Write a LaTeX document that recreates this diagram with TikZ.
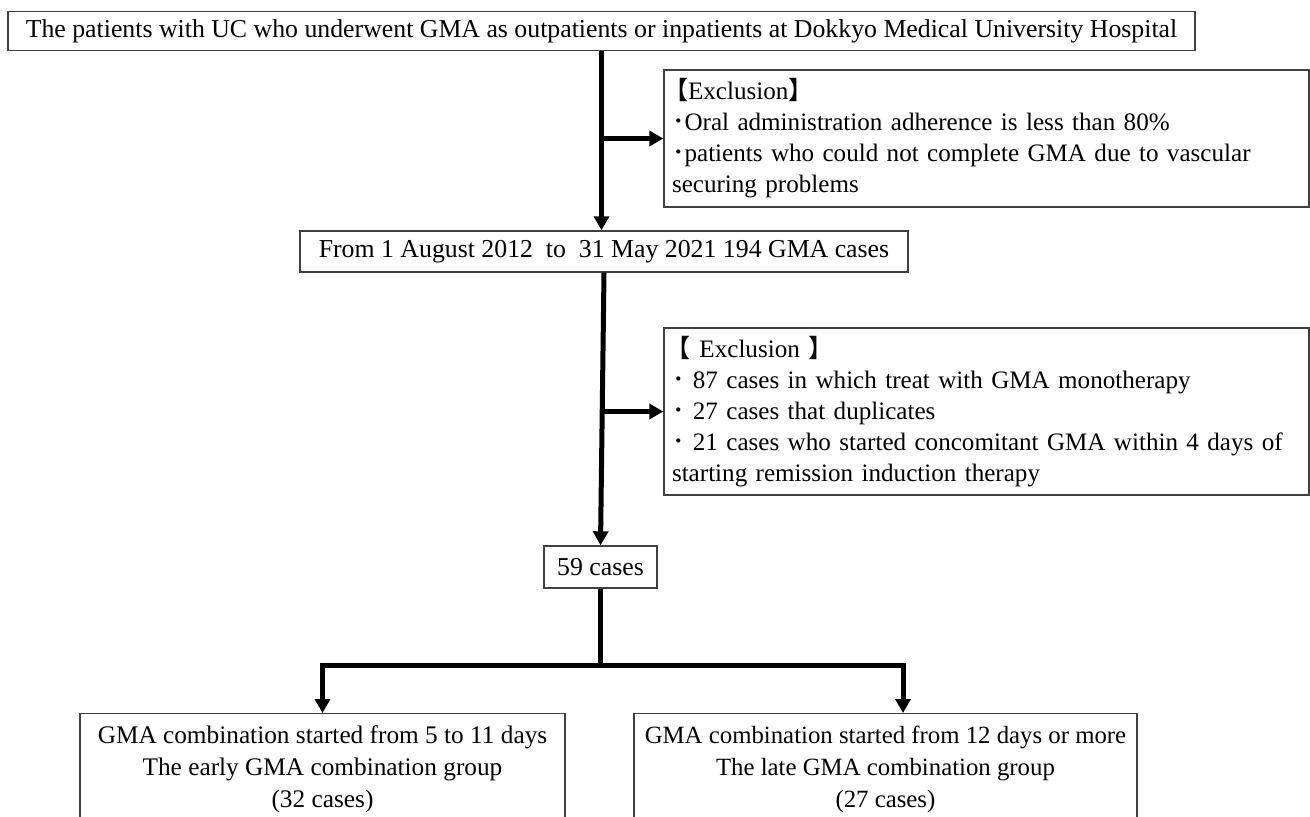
\documentclass[tikz,border=0pt]{standalone}
\usepackage{fontspec}
\setmainfont{Liberation Serif}
\newfontfamily\cjk{Noto Sans CJK JP}
\usetikzlibrary{arrows.meta}
\begin{document}
\begin{tikzpicture}[x=1pt,y=-1pt,
  box/.style={draw=black!75, line width=1.4pt, rectangle, inner sep=0pt,
    font=\fontsize{25.8}{31}\selectfont},
  exbox/.style={box, inner xsep=8pt, align=left, text width=629pt,
    font=\fontsize{25.1}{31}\selectfont},
  grpbox/.style={box, anchor=north, inner xsep=2pt, inner ysep=12pt, align=center,
    font=\fontsize{25.3}{32}\selectfont},
  arr/.style={line width=5pt, line join=miter, -{Triangle[length=14pt,width=15pt]}},
  ln/.style={line width=5pt}]
\useasboundingbox (0,0) rectangle (1310,817);
\clip (0,0) rectangle (1310,817);

\node[box, minimum width=1187pt, minimum height=39pt] (top) at (601.5,31)
  {The patients with UC who underwent GMA as outpatients or inpatients at Dokkyo Medical University Hospital};

\node[exbox, minimum height=137pt] (ex1) at (986.5,138.5)
  {\mbox{\hspace*{-9pt}{\cjk 【}Exclusion{\cjk 】}}\\
   \mbox{{\cjk ･}Oral administration adherence is less than 80\%}\\
   \mbox{{\cjk ･}patients who could not complete GMA due to vascular}\\
   \mbox{securing problems}};

\node[box, minimum width=608pt, minimum height=41pt] (box2) at (604,251.5)
  {From 1 August 2012\ \ to\ \ 31 May 2021 194 GMA cases};

\node[exbox, minimum height=167pt] (ex2) at (986.5,411.5)
  {\mbox{\hspace*{-7pt}{\cjk 【}\hspace{1pt} Exclusion {\cjk 】}}\\
   \mbox{{\cjk ･} 87 cases in which treat with GMA monotherapy}\\
   \mbox{{\cjk ･} 27 cases that duplicates}\\
   \mbox{{\cjk ･} 21 cases who started concomitant GMA within 4 days of}\\
   \mbox{starting remission induction therapy}};

\node[box, minimum width=113pt, minimum height=42pt] (box3) at (600.5,567) {59 cases};

\node[grpbox, minimum width=485pt] (left) at (322.5,713)
  {GMA combination started from 5 to 11 days\\
   The early GMA combination group\\
   (32 cases)};
\node[grpbox, minimum width=503pt, font=\fontsize{24.8}{32}\selectfont] (right) at (885.5,713)
  {GMA combination started from 12 days or more\\
   The late GMA combination group\\
   (27 cases)};

\coordinate (j) at (600.5,665);
\coordinate (jl) at (322.5,665);
\coordinate (jr) at (903,665);

\draw[arr] (top.south) -- (top.south |- box2.north);
\draw[arr] (top.south |- ex1.west) -- (ex1.west);
\draw[arr] (box2.south) -- (box3.north);
\draw[arr] ([xshift=-2pt]box2.south |- ex2.west) -- (ex2.west);
\draw[ln] (box3.south) -- (j);
\draw[arr] (j) -- (jl) -- (jl |- left.north);
\draw[arr] (j) -- (jr) -- (jr |- right.north);
\end{tikzpicture}
\end{document}
